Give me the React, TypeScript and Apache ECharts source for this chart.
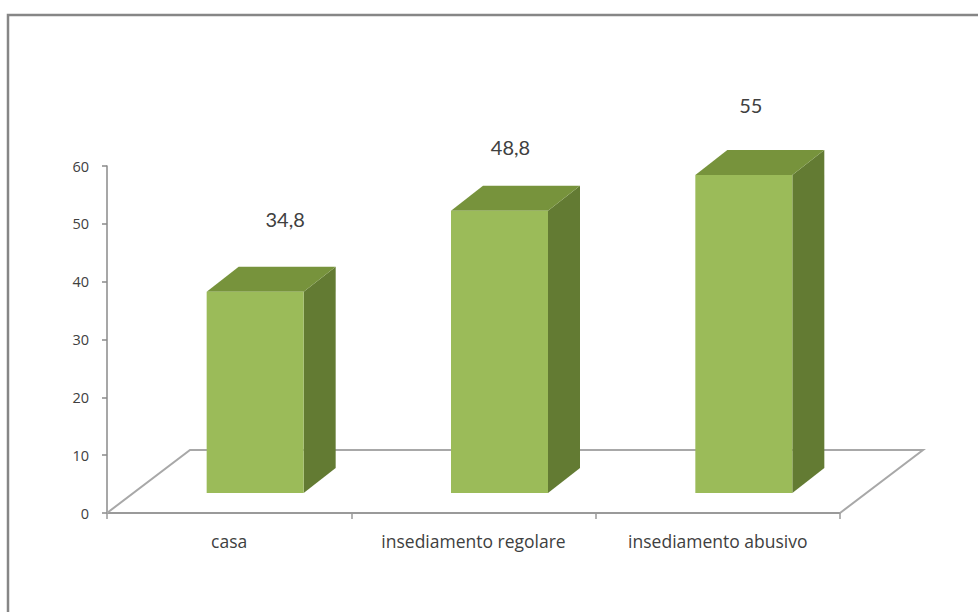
import React, { useEffect, useRef } from "react";
import * as echarts from "echarts";

const categories = ["casa", "insediamento regolare", "insediamento abusivo"];
const values = [34.8, 48.8, 55];
const yTicks = { min: 0, max: 60, interval: 10 };

// style constants (label nudges, 3D projection)
const labelShiftX = [30, 11, 7];
const labelShiftY = [-73, -64, -70];
const FLOOR_DX = 83;
const FLOOR_DY = -63;
const BAR_SX = 26;
const BAR_SY = -20;
const BAR_DX = 32;
const BAR_DY = -25;

const FONT = "Lato, 'Open Sans', sans-serif";
const AXFONT = "'Open Sans', Lato, sans-serif";

export default function App() {
  const ref = useRef<HTMLDivElement>(null);
  useEffect(() => {
    if (!ref.current) return;
    const chart = echarts.init(ref.current, null, { renderer: "svg" });
    const option: any = {
      animation: false,
      backgroundColor: "#ffffff",
      graphic: [
        {
          type: "rect",
          shape: { x: 8, y: 15, width: 1000, height: 700 },
          style: { fill: "none", stroke: "#868686", lineWidth: 2.5 },
          z: 0,
        },
      ],
      grid: { left: 107, right: 138, top: 166, bottom: 99 },
      xAxis: {
        type: "category",
        data: categories,
        boundaryGap: true,
        axisLine: { lineStyle: { color: "#9a9a9a", width: 2 } },
        axisTick: { show: true, interval: 0, length: 6, lineStyle: { color: "#9a9a9a", width: 1.5 } },
        axisLabel: {
          color: "#404040",
          fontSize: 17.5,
          fontFamily: AXFONT,
          margin: 19,
          interval: 0,
          hideOverlap: false,
        },
        splitLine: { show: false },
      },
      yAxis: {
        type: "value",
        min: yTicks.min,
        max: yTicks.max,
        interval: yTicks.interval,
        axisLine: { show: true, lineStyle: { color: "#8a8a8a", width: 1.5 } },
        axisTick: { show: true, length: 5, lineStyle: { color: "#8a8a8a", width: 1.5 } },
        axisLabel: { color: "#404040", fontSize: 14.5, fontFamily: AXFONT, margin: 18 },
        splitLine: { show: false },
      },
      series: [
        {
          type: "custom",
          z: 1,
          data: [[0]],
          renderItem: (params: any, api: any) => {
            const cs = params.coordSys;
            const x0 = cs.x;
            const x1 = cs.x + cs.width;
            const yb = cs.y + cs.height;
            return {
              type: "polyline",
              shape: {
                points: [
                  [x1, yb],
                  [x1 + FLOOR_DX, yb + FLOOR_DY],
                  [x0 + FLOOR_DX, yb + FLOOR_DY],
                  [x0, yb],
                ],
              },
              style: { fill: "none", stroke: "#a8a8a8", lineWidth: 2 },
            };
          },
        },
        {
          type: "custom",
          z: 2,
          data: values.map((v, i) => [i, v]),
          renderItem: (params: any, api: any) => {
            const idx = api.value(0);
            const v = api.value(1);
            const base = api.coord([idx, 0]);
            const top = api.coord([idx, v]);
            const band = api.size([1, 0])[0];
            const w = band * 0.397;
            const x0 = base[0] - w / 2 + BAR_SX;
            const x1 = x0 + w;
            const yb = base[1] + BAR_SY;
            const yt = top[1] + BAR_SY;
            const label = String(v).replace(".", ",");
            return {
              type: "group",
              children: [
                {
                  type: "polygon",
                  shape: { points: [[x1, yb], [x1 + BAR_DX, yb + BAR_DY], [x1 + BAR_DX, yt + BAR_DY], [x1, yt]] },
                  style: { fill: "#637B33" },
                },
                {
                  type: "polygon",
                  shape: { points: [[x0, yt], [x1, yt], [x1 + BAR_DX, yt + BAR_DY], [x0 + BAR_DX, yt + BAR_DY]] },
                  style: { fill: "#77933C" },
                },
                {
                  type: "rect",
                  shape: { x: x0, y: yt, width: w, height: yb - yt },
                  style: { fill: "#9BBB59" },
                },
                {
                  type: "text",
                  x: (x0 + x1) / 2 + labelShiftX[idx],
                  y: yt + labelShiftY[idx],
                  style: {
                    text: label,
                    fill: "#404040",
                    fontSize: 20,
                    fontFamily: FONT,
                    align: "center",
                    verticalAlign: "middle",
                  },
                },
              ],
            };
          },
        },
      ],
    };
    chart.setOption(option);
    return () => chart.dispose();
  }, []);
  return (
    <div
      ref={ref}
      style={{ position: "fixed", left: 0, top: 0, width: 978, height: 612, background: "#fff" }}
    />
  );
}
